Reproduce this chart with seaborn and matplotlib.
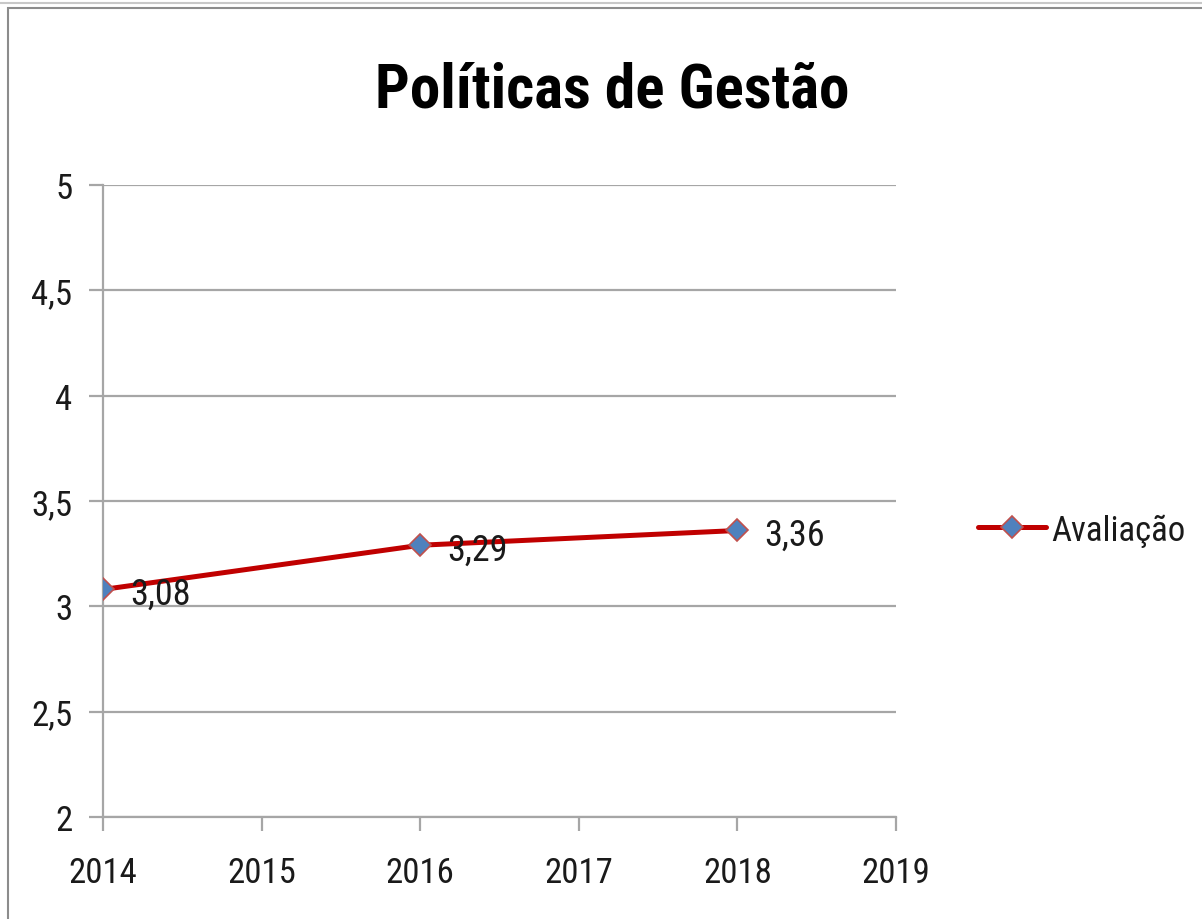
import matplotlib
matplotlib.use("Agg")
import matplotlib.pyplot as plt
import seaborn as sns
import pandas as pd
from matplotlib import font_manager
from matplotlib.lines import Line2D
from matplotlib.patches import Rectangle

years = [2014, 2016, 2018]
values = [3.08, 3.29, 3.36]
labels = ["3,08", "3,29", "3,36"]
yticks = [2, 2.5, 3, 3.5, 4, 4.5, 5]
ytick_labels = ["2", "2,5", "3", "3,5", "4", "4,5", "5"]
xticks = [2014, 2015, 2016, 2017, 2018, 2019]
title = "Políticas de Gestão"
series_name = "Avaliação"

sns.set_theme(style="white")
names = {f.name for f in font_manager.fontManager.ttflist}
fam = "Liberation Sans"
for cand in ["Liberation Sans Narrow", "Roboto Condensed", "Open Sans Condensed",
             "Noto Sans Condensed", "DejaVu Sans Condensed"]:
    if cand in names:
        fam = cand
        break
plt.rcParams["font.family"] = [fam, "DejaVu Sans"]

df = pd.DataFrame({"Ano": years, "Valor": values})

fig = plt.figure(figsize=(12.02, 9.2), dpi=100)
ax = fig.add_axes([103/1202, 1 - 818/920, (896-103)/1202, (818-186)/920])

line_color = "#C00000"
mk = dict(marker="D", markersize=11, markerfacecolor="#4F81BD",
          markeredgecolor="#C0504D", markeredgewidth=1.2)
sns.lineplot(data=df, x="Ano", y="Valor", ax=ax, color=line_color, linewidth=3.6,
             zorder=5, **mk)

ax.set_xlim(2014, 2019)
ax.set_ylim(2, 5)
ax.set_yticks(yticks)
ax.set_yticklabels(ytick_labels)
ax.set_xticks(xticks)
ax.set_xticklabels([str(x) for x in xticks])
ax.set_xlabel("")
ax.set_ylabel("")
ax.grid(axis="y", color="#A6A6A6", linewidth=1.6)
ax.grid(axis="x", visible=False)
for s in ["top", "right"]:
    ax.spines[s].set_visible(False)
for s in ["left", "bottom"]:
    ax.spines[s].set_color("#A6A6A6")
    ax.spines[s].set_linewidth(1.6)
ax.tick_params(axis="both", which="both", direction="out", length=10, width=1.6,
               color="#A6A6A6", labelsize=25, labelcolor="#1a1a1a",
               bottom=True, left=True)
ax.tick_params(axis="x", pad=18)
ax.tick_params(axis="y", pad=12)

for x, y, t in zip(years, values, labels):
    ax.annotate(t, (x, y), xytext=(27, -4), textcoords="offset pixels",
                ha="left", va="center", fontsize=26, color="#1a1a1a", zorder=6)

fig.text(612/1202, 1 - 90/920, title, ha="center", va="center",
         fontsize=44, fontweight="bold", color="black")

handle = Line2D([], [], color=line_color, linewidth=3.6, **mk)
fig.legend([handle], [series_name], loc="center left",
           bbox_to_anchor=(978/1202, 1 - 531/920), frameon=False,
           fontsize=25, handlelength=1.96, handletextpad=0.15, borderpad=0,
           borderaxespad=0, labelcolor="#1a1a1a")

fig.add_artist(Line2D([0, 1], [1 - 4/920, 1 - 4/920], transform=fig.transFigure,
                      color="#C8C8C8", linewidth=1.5))
fig.add_artist(Rectangle((8/1202, -0.1), 1.2, 1.1 - 9/920, transform=fig.transFigure,
                         fill=False, edgecolor="#8C8C8C", linewidth=1.5))

fig.savefig("out.png", dpi=100)
